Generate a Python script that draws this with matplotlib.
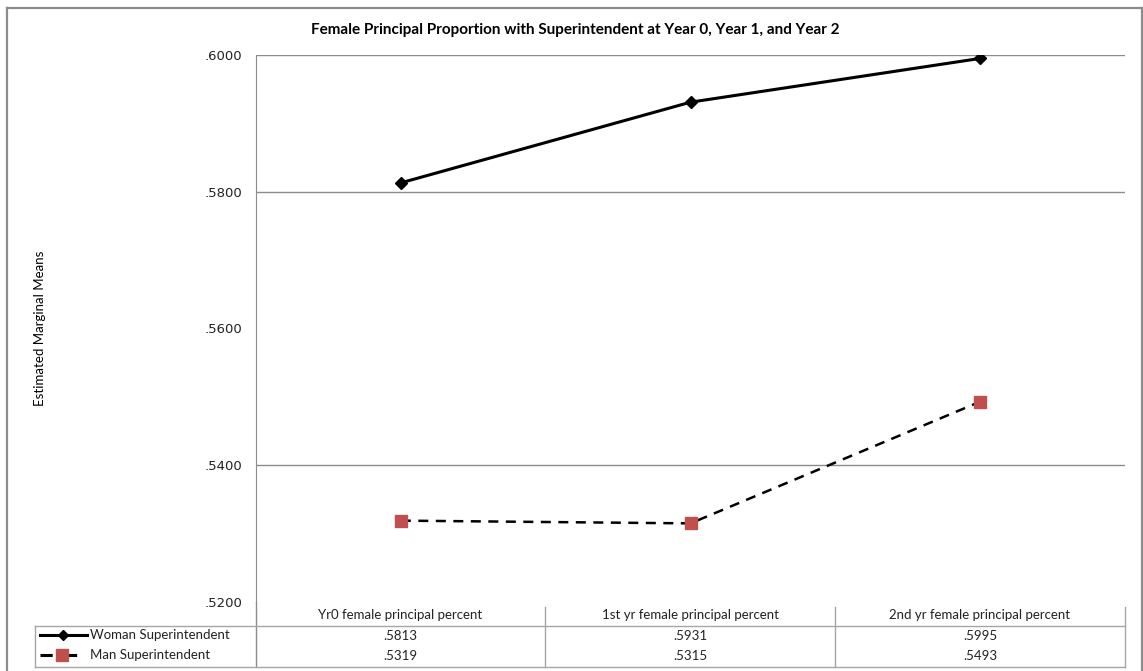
import numpy as np
import matplotlib.pyplot as plt
from matplotlib.lines import Line2D

# data
categories = ['Yr0 female principal percent', '1st yr female principal percent',
              '2nd yr female principal percent']
series_names = ['Woman Superintendent', 'Man Superintendent']
woman = [0.5813, 0.5931, 0.5995]
man = [0.5319, 0.5315, 0.5493]
yticks = [0.52, 0.54, 0.56, 0.58, 0.60]
grid_at = [0.54, 0.58, 0.60]

W, H = 1143, 671
RED = '#C0504D'
GRID = '#8C8C8C'
TBL = '#A6A6A6'

def fx(px):
    return px / W

def fy(py):
    return 1 - py / H

fig = plt.figure(figsize=(W / 100, H / 100), dpi=100)

# plot area in pixel coords
L, R, T, B = 256, 1125, 55, 602
ax = fig.add_axes([fx(L), fy(B), fx(R - L), fy(T) - fy(B)])
x = np.arange(len(categories))
ax.set_xlim(-0.5, len(categories) - 0.5)
ax.set_ylim(yticks[0], yticks[-1])
for g in grid_at:
    ax.axhline(g, color=GRID, lw=1.0, zorder=1)
ax.plot(x, woman, color='black', lw=2.2, marker='D', ms=6.5, zorder=3)
ax.plot(x, man, color='black', lw=1.8, ls=(0, (4, 3)), zorder=2)
ax.plot(x, man, ls='none', marker='s', ms=9, mfc=RED, mec=RED, zorder=4)
for s in ['top', 'right', 'bottom']:
    ax.spines[s].set_visible(False)
ax.spines['left'].set_color(GRID)
ax.set_xticks([])
ax.set_yticks(yticks)
ax.set_yticklabels(['.%d' % round(v * 10000) for v in yticks], fontsize=9.5, color='#222222')
ax.tick_params(axis='y', length=0, pad=10)
for lbl in ax.get_yticklabels():
    lbl.set_verticalalignment('center_baseline')

fig.text(fx(40), fy(328), 'Estimated Marginal Means', rotation=90, ha='center', va='center',
         fontsize=9.5, family=['Liberation Sans Narrow', 'Lato'])
fig.text(fx(575), fy(30), 'Female Principal Proportion with Superintendent at Year 0, Year 1, and Year 2',
         ha='center', va='center', fontsize=11, fontweight='bold', family=['Lato', 'DejaVu Sans'])

def fline(x0, y0, x1, y1, color=TBL, lw=1.0):
    fig.add_artist(Line2D([fx(x0), fx(x1)], [fy(y0), fy(y1)], color=color, lw=lw))

# data table under the plot
col_edges = [L, 545, 835, R]
row_top, row_bot = 626, 667
leg_left = 35
fline(L, B, L, row_bot, color=GRID)
for xe in col_edges[1:]:
    fline(xe, 607, xe, row_bot)
fline(leg_left, row_top, leg_left, row_bot)
fline(leg_left, row_top, R, row_top)
fline(leg_left, row_bot, R, row_bot)

tfont = dict(fontsize=9.5, family=['Lato', 'DejaVu Sans'], color='#222222')
for i, cat in enumerate(categories):
    cx = (col_edges[i] + col_edges[i + 1]) / 2
    fig.text(fx(cx), fy(615), cat, ha='center', va='center', **tfont)
    fig.text(fx(cx), fy(636), '.%d' % round(woman[i] * 10000), ha='center', va='center', **tfont)
    fig.text(fx(cx), fy(656), '.%d' % round(man[i] * 10000), ha='center', va='center', **tfont)

# legend keys inside table
fig.add_artist(Line2D([fx(40), fx(87)], [fy(635), fy(635)], color='black', lw=2.2))
fig.add_artist(Line2D([fx(63)], [fy(635)], color='black', marker='D', ms=5))
fig.add_artist(Line2D([fx(40), fx(87)], [fy(655), fy(655)], color='black', lw=2.2, ls=(0, (4, 4))))
fig.add_artist(Line2D([fx(62)], [fy(655)], color=RED, marker='s', ms=8, mec=RED))
fig.text(fx(90), fy(635), series_names[0], ha='left', va='center', **tfont)
fig.text(fx(90), fy(655), series_names[1], ha='left', va='center', **tfont)

# outer frame of the figure box
fline(7, 8, 1142, 8, color=GRID, lw=1.6)
fline(7, 8, 7, H + 5, color=GRID, lw=1.6)
fline(1142, 8, 1142, H + 5, color=GRID, lw=1.6)

fig.savefig('out.png', dpi=100)
